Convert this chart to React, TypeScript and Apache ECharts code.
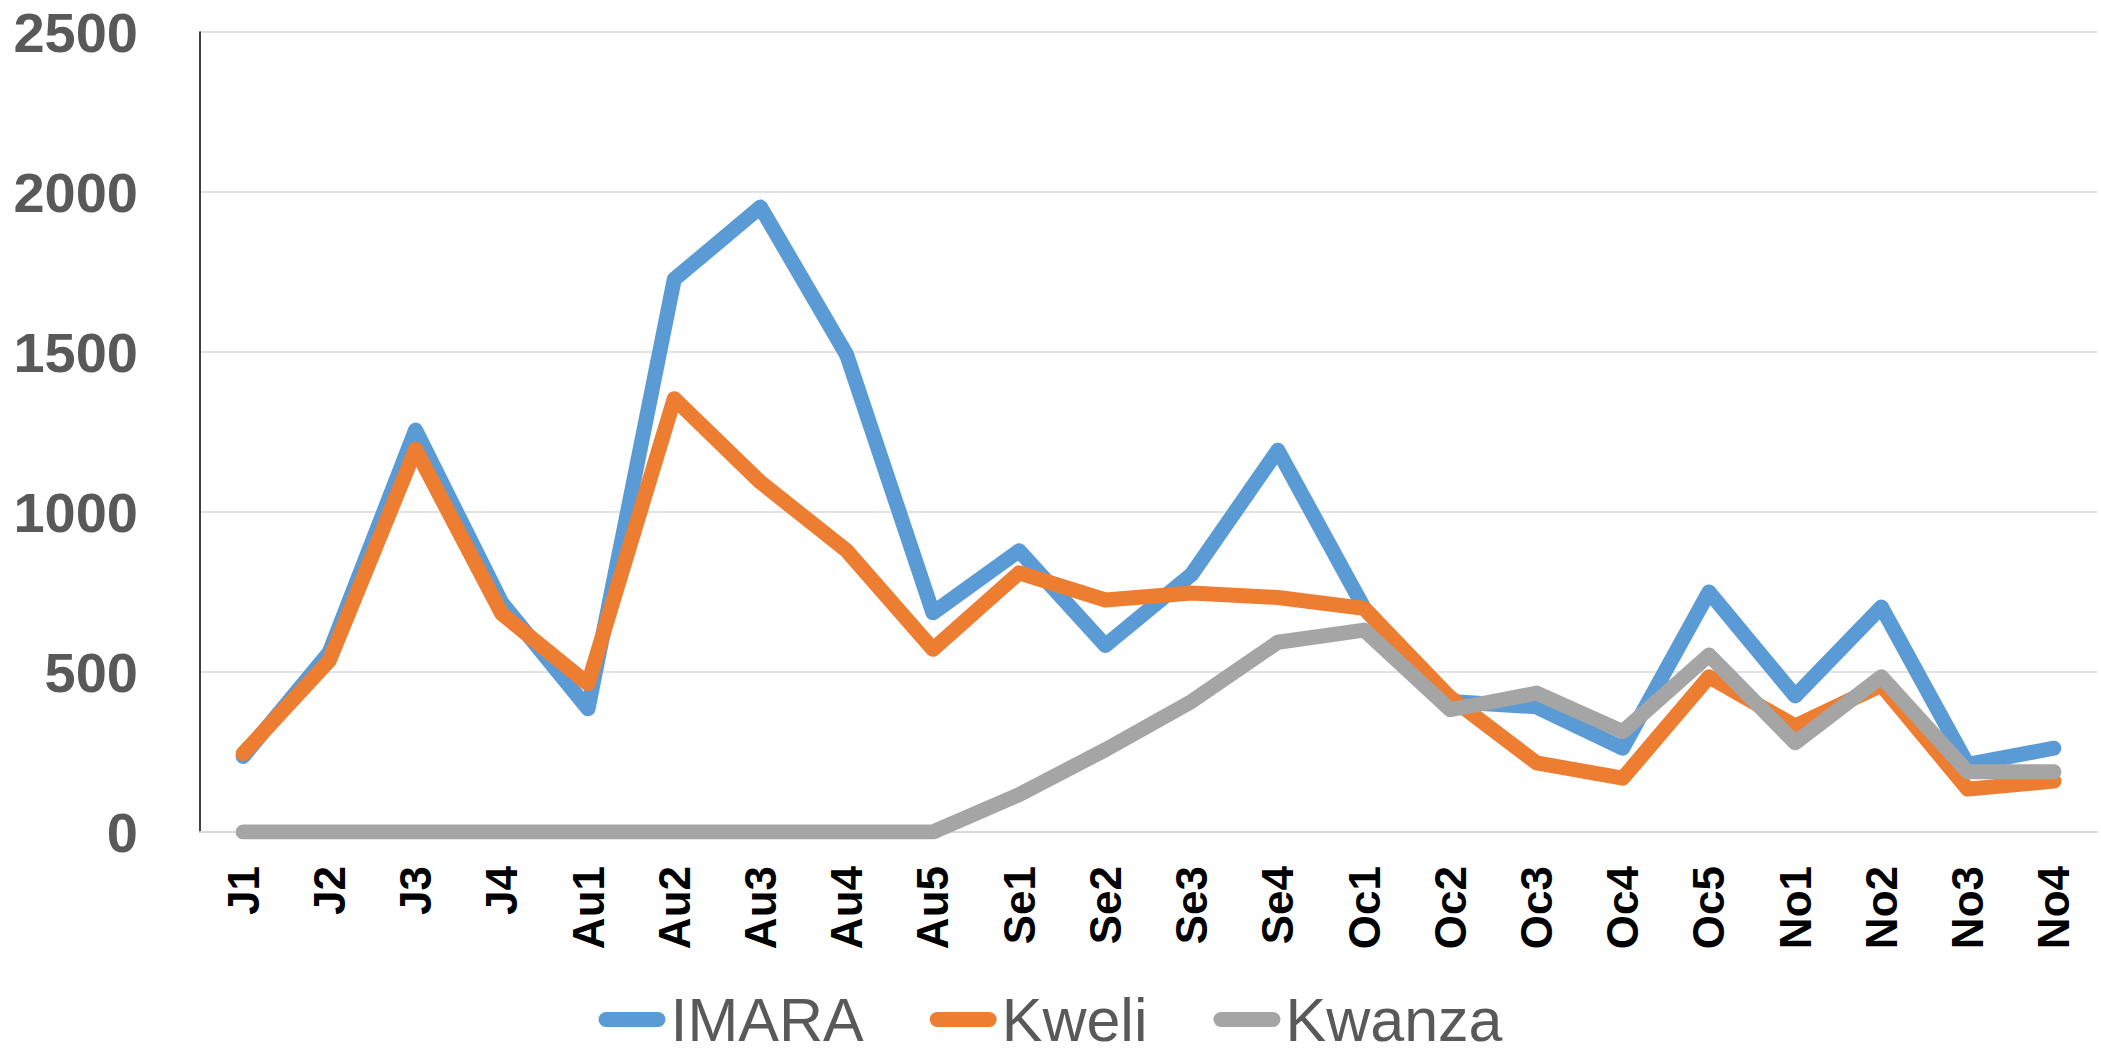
import React, { useEffect, useRef } from "react";
import * as echarts from "echarts";

const categories = ["J1","J2","J3","J4","Au1","Au2","Au3","Au4","Au5","Se1","Se2","Se3","Se4","Oc1","Oc2","Oc3","Oc4","Oc5","No1","No2","No3","No4"];
const imara = [236, 562, 1256, 716, 385, 1727, 1953, 1491, 685, 879, 583, 805, 1193, 700, 408, 391, 262, 750, 425, 703, 211, 262];
const kweli = [245, 536, 1196, 682, 463, 1354, 1093, 879, 571, 810, 725, 747, 733, 699, 420, 216, 168, 485, 331, 459, 134, 159];
const kwanza = [0, 0, 0, 0, 0, 0, 0, 0, 0, 117, 257, 408, 593, 631, 382, 434, 314, 553, 279, 485, 188, 188];
const seriesNames = ["IMARA", "Kweli", "Kwanza"];
const colors = ["#5B9BD5", "#ED7D31", "#A5A5A5"];

export default function App() {
  const ref = useRef<HTMLDivElement>(null);
  useEffect(() => {
    if (!ref.current) return;
    const chart = echarts.init(ref.current, undefined, { renderer: "svg" });
    const values = [imara, kweli, kwanza];
    chart.setOption({
      animation: false,
      backgroundColor: "#ffffff",
      textStyle: { fontFamily: "Liberation Sans" },
      grid: { left: 200, right: 4, top: 32, bottom: 223, containLabel: false },
      legend: {
        top: 984,
        left: "center",
        itemWidth: 67,
        itemHeight: 15,
        itemGap: 66,
        icon: "path://M7.5,0 H59.5 A7.5,7.5 0 0 1 59.5,15 H7.5 A7.5,7.5 0 0 1 7.5,0 Z",
        textStyle: { fontSize: 61, color: "#595959", fontFamily: "Liberation Sans" },
        data: seriesNames,
      },
      xAxis: {
        type: "category",
        data: categories,
        boundaryGap: true,
        axisTick: { show: false },
        axisLine: { lineStyle: { color: "#D9D9D9", width: 2 } },
        axisLabel: {
          rotate: 90,
          margin: 34,
          fontSize: 44,
          fontWeight: "bold",
          color: "#000000",
          fontFamily: "Liberation Sans",
        },
      },
      yAxis: {
        type: "value",
        min: 0,
        max: 2500,
        interval: 500,
        axisLine: { show: true, lineStyle: { color: "#000000", width: 1.5 } },
        axisTick: { show: false },
        splitLine: { lineStyle: { color: "#D9D9D9", width: 1.5 } },
        axisLabel: {
          margin: 62,
          fontSize: 56,
          fontWeight: "bold",
          color: "#595959",
          fontFamily: "Liberation Sans",
          formatter: (v: number) => String(v),
        },
      },
      series: seriesNames.map((name, i) => ({
        name,
        type: "line",
        data: values[i],
        showSymbol: false,
        symbol: "none",
        color: colors[i],
        lineStyle: { color: colors[i], width: 15, cap: "round", join: "round" },
        z: 2 + i,
      })),
    });
    return () => chart.dispose();
  }, []);
  return (
    <div
      ref={ref}
      style={{ position: "fixed", left: 0, top: 0, width: 2101, height: 1055 }}
    />
  );
}
